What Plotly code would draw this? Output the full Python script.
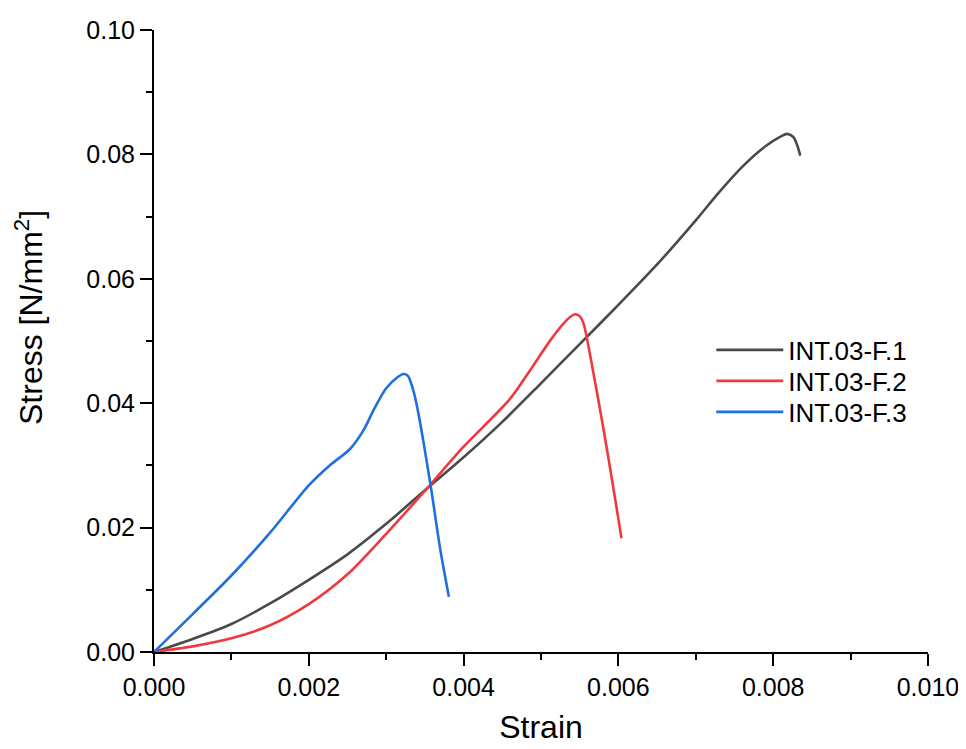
import plotly.graph_objects as go

# Data
f1_strain = [0, 0.0005, 0.0010, 0.0015, 0.0020, 0.0025, 0.0030, 0.0035, 0.0040, 0.0045,
             0.0050, 0.0055, 0.0060, 0.0065, 0.0070, 0.0073, 0.0076, 0.0079, 0.0081,
             0.00818, 0.00826, 0.00831, 0.00835]
f1_stress = [0, 0.0021, 0.0045, 0.0078, 0.0116, 0.0157, 0.0206, 0.0260, 0.0313, 0.0370,
             0.0432, 0.0495, 0.0558, 0.0623, 0.0694, 0.0739, 0.0780, 0.0813, 0.0829,
             0.0833, 0.0828, 0.0815, 0.0798]

f2_strain = [0, 0.0005, 0.0010, 0.0015, 0.0020, 0.0025, 0.0030, 0.0035, 0.0040, 0.0046,
             0.00486, 0.00512, 0.00529, 0.00538, 0.00544, 0.00550, 0.00555,
             0.00564, 0.00581, 0.00594, 0.00604]
f2_stress = [0, 0.0009, 0.0022, 0.0043, 0.0077, 0.0125, 0.0190, 0.0259, 0.0330, 0.0407,
             0.0453, 0.0501, 0.0528, 0.0539, 0.0543, 0.0540, 0.0528,
             0.0474, 0.0357, 0.0260, 0.0183]

f3_strain = [0, 0.0005, 0.0010, 0.0015, 0.0020, 0.00227, 0.00253, 0.00270, 0.00285, 0.00300,
             0.00315, 0.00322, 0.00328, 0.00334, 0.00340, 0.00357, 0.00370, 0.00381]
f3_stress = [0, 0.0061, 0.0123, 0.0192, 0.0268, 0.0300, 0.0326, 0.0355, 0.0392, 0.0424,
             0.0442, 0.0447, 0.0444, 0.0425, 0.0394, 0.0271, 0.0164, 0.0089]

series_names = ["INT.03-F.1", "INT.03-F.2", "INT.03-F.3"]
series_colors = ["#4a4a4a", "#f0393c", "#1f6fde"]

x_tickvals = [0.000, 0.002, 0.004, 0.006, 0.008, 0.010]
x_ticktext = ["0.000", "0.002", "0.004", "0.006", "0.008", "0.010"]
y_tickvals = [0.00, 0.02, 0.04, 0.06, 0.08, 0.10]
y_ticktext = ["0.00", "0.02", "0.04", "0.06", "0.08", "0.10"]

x_title = "Strain"
y_title = "Stress [N/mm<sup>2</sup>]"

FONT = "Liberation Sans, Arial, sans-serif"

legend_ids = ["legend", "legend2", "legend3"]
legend_rows_y = [0.4855, 0.4357, 0.3859]

fig = go.Figure()
for xs, ys, name, color, lid in zip([f1_strain, f2_strain, f3_strain],
                                    [f1_stress, f2_stress, f3_stress],
                                    series_names, series_colors, legend_ids):
    fig.add_trace(go.Scatter(x=xs, y=ys, mode="lines", name=name, legend=lid,
                             line=dict(color=color, width=2.6, shape="spline", smoothing=0.8)))

axis_common = dict(
    showline=True, linecolor="black", linewidth=2,
    ticks="outside", ticklen=12, tickwidth=2, tickcolor="black",
    showgrid=False, zeroline=False, mirror=False,
    tickfont=dict(family=FONT, size=25, color="black"),
)

fig.update_xaxes(range=[0, 0.0100005], tickvals=x_tickvals, ticktext=x_ticktext,
                 minor=dict(ticks="outside", ticklen=6, tickwidth=2, tickcolor="black", dtick=0.001, tick0=0),
                 title=dict(text=x_title, font=dict(family=FONT, size=32, color="black"), standoff=16),
                 **axis_common)
fig.update_yaxes(range=[0, 0.10], tickvals=y_tickvals, ticktext=y_ticktext,
                 minor=dict(ticks="outside", ticklen=6, tickwidth=2, tickcolor="black", dtick=0.01, tick0=0),
                 **axis_common)

legend_common = dict(x=0.72, xanchor="left", yanchor="middle",
                     font=dict(family=FONT, size=26, color="black"),
                     bgcolor="rgba(0,0,0,0)", itemwidth=67, borderwidth=0)

fig.update_layout(
    width=958, height=741,
    margin=dict(l=146, r=38, t=22, b=97, autoexpand=False),
    plot_bgcolor="white", paper_bgcolor="white",
    showlegend=True,
    legend=dict(y=legend_rows_y[0], **legend_common),
    legend2=dict(y=legend_rows_y[1], **legend_common),
    legend3=dict(y=legend_rows_y[2], **legend_common),
    annotations=[dict(text=y_title, textangle=-90, xref="paper", yref="paper",
                      x=-0.1615, y=0.5386, xanchor="center", yanchor="middle",
                      showarrow=False, font=dict(family=FONT, size=32, color="black"))],
)

fig.write_html("out.html")
